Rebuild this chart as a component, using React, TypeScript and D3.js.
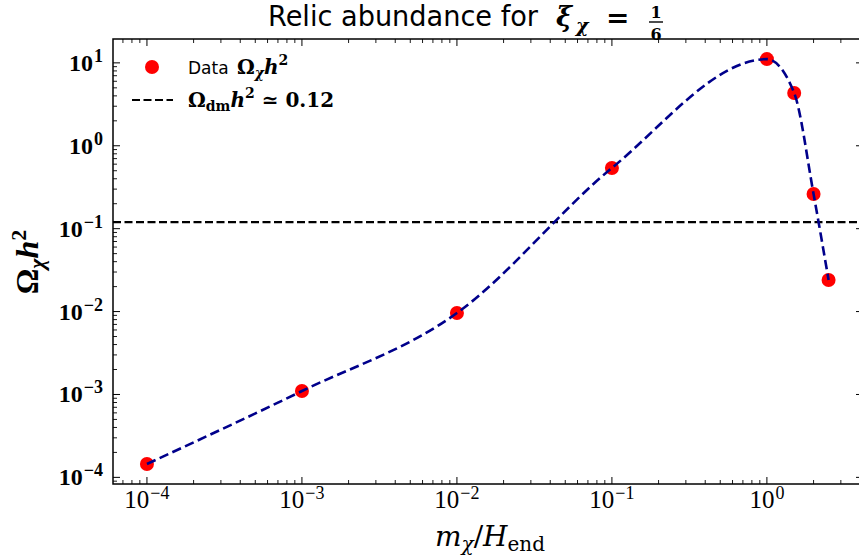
import React from "react";
import * as d3 from "d3";

const masses = [1e-4, 1e-3, 1e-2, 1e-1, 1, 1.5, 2, 2.5];
const omegaValues = [1.45e-4, 1.1e-3, 9.6e-3, 0.54, 11.1, 4.33, 0.262, 0.024];
const omegaDM = 0.12;
const xMajorTicks = [1e-4, 1e-3, 1e-2, 1e-1, 1];
const xTickExps = ["−4", "−3", "−2", "−1", "0"];
const yMajorTicks = [1e-4, 1e-3, 1e-2, 1e-1, 1, 10];
const yTickExps = ["−4", "−3", "−2", "−1", "0", "1"];

const W = 859;
const H = 559;
const L = 113, R = 863, T = 39, B = 484;

const SERIF = "'Liberation Serif', 'DejaVu Serif', serif";
const DSERIF = "'DejaVu Serif', serif";
const SANS = "'DejaVu Sans', 'Liberation Sans', sans-serif";

function minorTicks(domain: [number, number]) {
  const out: number[] = [];
  const lo = Math.floor(Math.log10(domain[0]));
  const hi = Math.ceil(Math.log10(domain[1]));
  for (let k = lo; k <= hi; k++) {
    for (let j = 2; j <= 9; j++) {
      const v = j * Math.pow(10, k);
      if (v >= domain[0] && v <= domain[1]) out.push(v);
    }
  }
  return out;
}

export default function App() {
  const xDomain: [number, number] = [Math.pow(10, -4.219), Math.pow(10, 0.62)];
  const yDomain: [number, number] = [Math.pow(10, -4.08), Math.pow(10, 1.288)];
  const x = d3.scaleLog().domain(xDomain).range([L, R]);
  const y = d3.scaleLog().domain(yDomain).range([B, T]);

  const pts = masses.map((m, i) => [x(m), y(omegaValues[i])] as [number, number]);
  const linePath = d3.line().curve(d3.curveMonotoneX)(pts) || "";

  const xMinor = minorTicks(xDomain);
  const yMinor = minorTicks(yDomain);

  const major = 7, minor = 4;

  return (
    <svg width={W} height={H} style={{ position: "absolute", left: 0, top: 0, background: "#fff" }}>
      <rect x={0} y={0} width={W} height={H} fill="#fff" />
      {/* hline */}
      <line x1={L} x2={R} y1={y(omegaDM)} y2={y(omegaDM)} stroke="#000" strokeWidth={2.2} strokeDasharray="8,3.5" />
      {/* points */}
      {pts.map((p, i) => (
        <circle key={i} cx={p[0]} cy={p[1]} r={7} fill="#ff0000" />
      ))}
      {/* curve */}
      <path d={linePath} fill="none" stroke="#00008b" strokeWidth={2.6} strokeDasharray="9.5,4.5" />

      {/* ticks */}
      {xMajorTicks.map((t, i) => (
        <g key={"xm" + i}>
          <line x1={x(t)} x2={x(t)} y1={B} y2={B - major} stroke="#000" strokeWidth={1} />
          <line x1={x(t)} x2={x(t)} y1={T} y2={T + major} stroke="#000" strokeWidth={1} />
          <text x={x(t)} y={508} textAnchor="middle" fontFamily={SERIF} fontSize={25}>
            10<tspan dy={-9} dx={1} fontSize={18}>{xTickExps[i]}</tspan>
          </text>
        </g>
      ))}
      {xMinor.map((t, i) => (
        <g key={"xn" + i}>
          <line x1={x(t)} x2={x(t)} y1={B} y2={B - minor} stroke="#000" strokeWidth={0.9} />
          <line x1={x(t)} x2={x(t)} y1={T} y2={T + minor} stroke="#000" strokeWidth={0.9} />
        </g>
      ))}
      {yMajorTicks.map((t, i) => (
        <g key={"ym" + i}>
          <line x1={L} x2={L + major} y1={y(t)} y2={y(t)} stroke="#000" strokeWidth={1} />
          <line x1={R} x2={R - major} y1={y(t)} y2={y(t)} stroke="#000" strokeWidth={1} />
          <text x={103} y={y(t) + 8} textAnchor="end" fontFamily={SERIF} fontSize={24} fontWeight="bold">
            10<tspan dy={-9} dx={1} fontSize={18}>{yTickExps[i]}</tspan>
          </text>
        </g>
      ))}
      {yMinor.map((t, i) => (
        <g key={"yn" + i}>
          <line x1={L} x2={L + minor} y1={y(t)} y2={y(t)} stroke="#000" strokeWidth={0.9} />
          <line x1={R} x2={R - minor} y1={y(t)} y2={y(t)} stroke="#000" strokeWidth={0.9} />
        </g>
      ))}

      {/* frame */}
      <rect x={L} y={T} width={R - L} height={B - T} fill="none" stroke="#000" strokeWidth={1.5} />

      {/* title */}
      <text x={268} y={26} fontFamily={SANS} fontSize={29} textLength={270} lengthAdjust="spacingAndGlyphs">
        Relic abundance for
      </text>
      <text x={556} y={26} fontFamily={DSERIF} fontWeight="bold" fontStyle="italic" fontSize={27}>ξ</text>
      <text x={576} y={32} fontFamily={DSERIF} fontWeight="bold" fontStyle="italic" fontSize={19}>χ</text>
      <text x={606} y={27} fontFamily={DSERIF} fontWeight="bold" fontSize={28}>=</text>
      <text x={656} y={18} textAnchor="middle" fontFamily={DSERIF} fontWeight="bold" fontSize={16}>1</text>
      <line x1={649} x2={663} y1={22} y2={22} stroke="#000" strokeWidth={1.4} />
      <text x={656} y={40} textAnchor="middle" fontFamily={DSERIF} fontWeight="bold" fontSize={16}>6</text>

      {/* legend */}
      <circle cx={152} cy={67} r={7} fill="#ff0000" />
      <text x={188} y={74} fontFamily={SANS} fontSize={17}>
        Data
      </text>
      <text x={237} y={74} fontFamily={DSERIF} fontWeight="bold" fontSize={20}>
        Ω
        <tspan fontStyle="italic" fontSize={14} dy={4}>χ</tspan>
        <tspan fontStyle="italic" fontSize={20} dy={-4}>h</tspan>
        <tspan fontSize={14} dy={-9}>2</tspan>
      </text>
      <line x1={132} x2={173} y1={100} y2={100} stroke="#000" strokeWidth={2.2} strokeDasharray="8,3.5" />
      <text x={188} y={107} fontFamily={DSERIF} fontWeight="bold" fontSize={20}>
        Ω
        <tspan fontSize={14} dy={4}>dm</tspan>
        <tspan fontStyle="italic" dy={-4}>h</tspan>
        <tspan fontSize={14} dy={-9}>2</tspan>
        <tspan dy={9}> ≃ 0.12</tspan>
      </text>

      {/* axis labels */}
      <text x={490} y={546} textAnchor="middle" fontFamily={DSERIF} fontSize={28} fontStyle="italic">
        m<tspan fontSize={20} dy={5}>χ</tspan>
        <tspan dy={-5} fontStyle="normal">/</tspan>
        <tspan>H</tspan>
        <tspan fontSize={20} dy={5} fontStyle="normal">end</tspan>
      </text>
      <text transform="translate(38,262) rotate(-90)" textAnchor="middle" fontFamily={SERIF} fontSize={32} fontWeight="bold">
        Ω<tspan fontSize={22} dy={6} fontStyle="italic">χ</tspan>
        <tspan dy={-6} fontStyle="italic">h</tspan>
        <tspan fontSize={22} dy={-12}>2</tspan>
      </text>
    </svg>
  );
}
